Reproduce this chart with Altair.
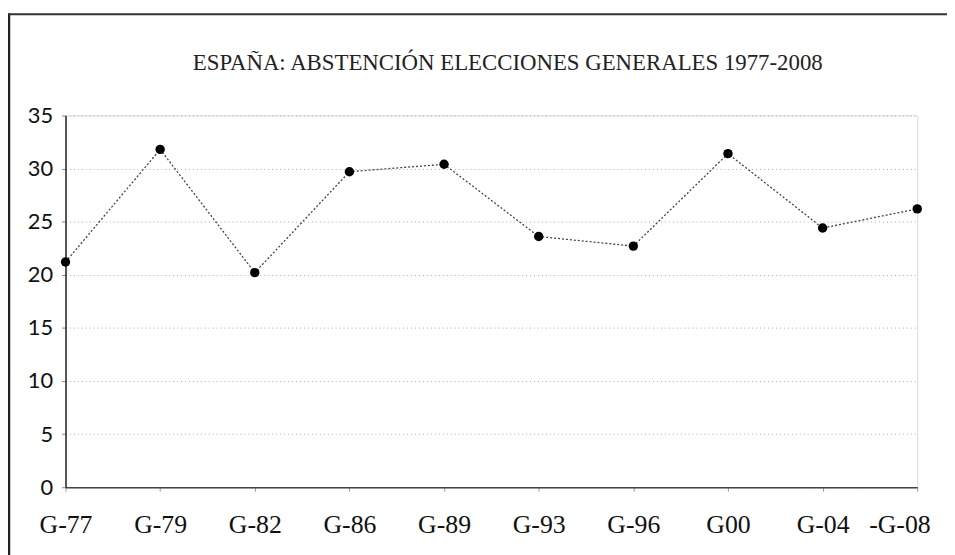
import altair as alt
import pandas as pd

categories = ["G-77", "G-79", "G-82", "G-86", "G-89", "G-93", "G-96", "G00", "G-04", "-G-08"]
abstention = [21.2, 31.8, 20.2, 29.7, 30.4, 23.6, 22.7, 31.4, 24.4, 26.2]
y_ticks = [0, 5, 10, 15, 20, 25, 30, 35]
title_text = "ESPAÑA: ABSTENCIÓN ELECCIONES GENERALES 1977-2008"

df = pd.DataFrame({"eleccion": categories, "abstencion": abstention})

x_enc = alt.X(
    "eleccion:N",
    sort=categories,
    scale=alt.Scale(type="point", padding=0),
    axis=alt.Axis(
        title=None,
        labelAngle=0,
        labelFont="Liberation Serif",
        labelFontSize=26,
        labelColor="#111",
        labelPadding=21,
        labelOffset=alt.expr("datum.value == '-G-08' ? -18 : 0"),
        tickSize=4,
        tickColor="#999",
        domainColor="#444",
        domainWidth=1.5,
        grid=False,
    ),
)
y_enc = alt.Y(
    "abstencion:Q",
    scale=alt.Scale(domain=[0, 35], nice=False, zero=True),
    axis=alt.Axis(
        title=None,
        values=y_ticks,
        labelFont="Lato",
        labelFontSize=22,
        labelColor="#111",
        labelPadding=9,
        tickSize=4,
        tickColor="#888",
        domainColor="#222",
        domainWidth=1.5,
        grid=True,
        gridColor="#aaa",
        gridDash=[1, 3],
        gridWidth=1,
    ),
)

base = alt.Chart(df)
line = base.mark_line(color="#444", strokeWidth=1.3, strokeDash=[2, 2]).encode(x=x_enc, y=y_enc)
points = base.mark_point(filled=True, shape="circle", size=90, color="#000", opacity=1).encode(x=x_enc, y=y_enc)

one = pd.DataFrame({"k": [0]})
border_left = alt.Chart(one).mark_rule(color="#222", strokeWidth=2.5).encode(
    x=alt.value(-57), y=alt.value(-103), y2=alt.value(460)
)
border_top = alt.Chart(one).mark_rule(color="#333", strokeWidth=2).encode(
    x=alt.value(-58), x2=alt.value(900), y=alt.value(-102)
)
title = alt.Chart(one).mark_text(
    text=title_text,
    font="Liberation Serif",
    fontSize=23,
    color="#222",
    align="center",
    baseline="alphabetic",
).encode(x=alt.value(446), y=alt.value(-46))

chart = (
    alt.layer(border_left, border_top, title, line, points)
    .properties(
        width=859,
        height=375,
        padding={"left": 58, "top": 106, "right": 30, "bottom": 66},
        autosize=alt.AutoSizeParams(type="none"),
    )
    .configure_view(stroke=None)
    .configure(background="white")
)

chart.save("out.html", embed_options={"renderer": "svg", "actions": False})
